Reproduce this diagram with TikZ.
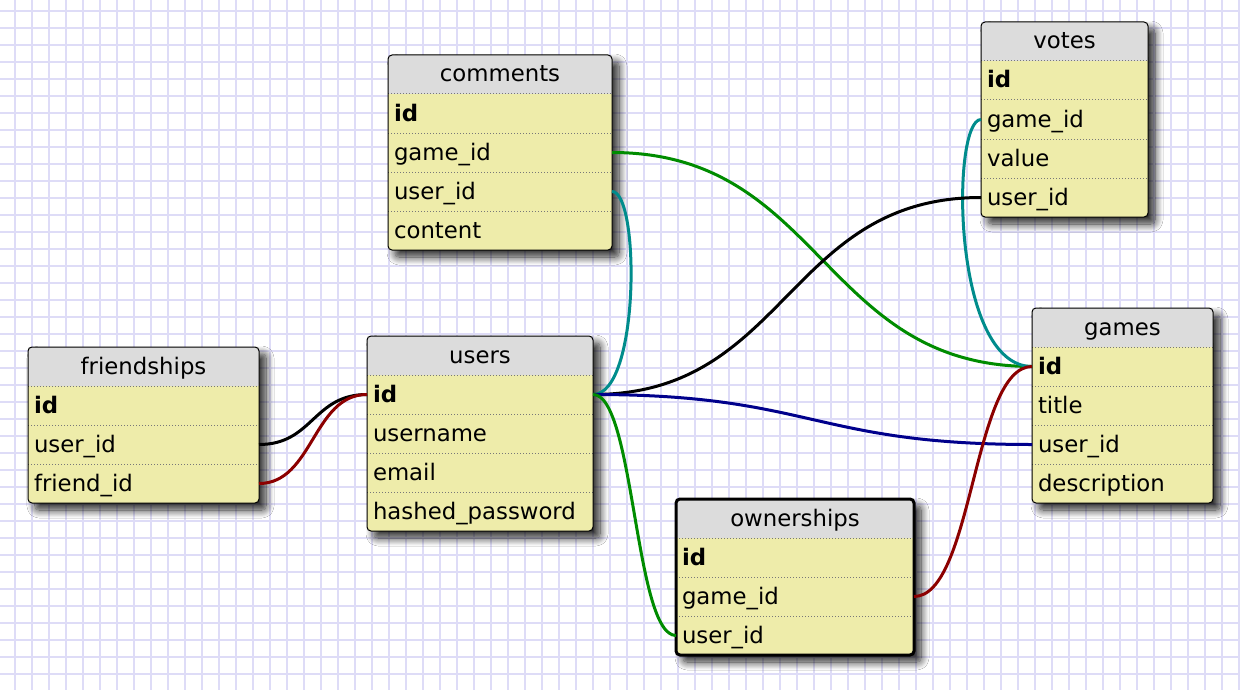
\documentclass[tikz,border=0pt]{standalone}
\usepackage{fontspec}
\setmainfont{DejaVu Sans}
\usetikzlibrary{calc,shadows.blur}
\definecolor{gridc}{RGB}{222,220,247}
\definecolor{rowc}{RGB}{238,236,170}
\definecolor{hdrc}{RGB}{220,220,220}
\definecolor{sepc}{RGB}{120,120,120}
\definecolor{cgreen}{RGB}{0,140,0}
\definecolor{cteal}{RGB}{0,140,140}
\definecolor{cnavy}{RGB}{0,0,140}
\definecolor{cred}{RGB}{140,0,0}
\tikzset{
  gridline/.style={draw=gridc, line width=1pt},
  tblshadow/.style={blur shadow={shadow xshift=3.5pt, shadow yshift=-3.5pt, shadow blur radius=4pt, shadow blur steps=12, shadow opacity=85}},
  tblfill/.style={fill=rowc, rounded corners=2pt, tblshadow},
  hdrfill/.style={fill=hdrc},
  sepline/.style={draw=sepc, line width=0.5pt, dash pattern=on 0.5pt off 1pt},
  border/.style={draw=black, line width=0.5pt, rounded corners=2pt},
  selborder/.style={line width=1.5pt},
  titletext/.style={font=\fontsize{11.4pt}{13pt}\selectfont, inner sep=0pt, text height=10pt, text depth=2.5pt},
  fieldrow/.style={font=\fontsize{11.4pt}{13pt}\selectfont, inner xsep=3pt, inner ysep=0pt, outer sep=0pt, minimum height=19.5pt, text height=10pt, text depth=2.5pt, align=left, anchor=west},
  conn/.style={line width=1.5pt},
}
\newcommand\dbtable[8]{%
  \pgfmathsetmacro\tbH{39*(#6+1)}%
  \pgfmathsetmacro\tbW{(#4-12)*0.5}%
  \fill[tblfill] (#2,#3) rectangle ++(#4,\tbH);
  \fill[hdrfill, rounded corners=2pt] (#2,#3) rectangle ++(#4,39);
  \fill[hdrfill] (#2,#3+30) rectangle ++(#4,9);
  \foreach \sk in {1,...,#6} \draw[sepline] (#2,#3+39*\sk) -- ++(#4,0);
  \draw[border,#8] (#2,#3) rectangle ++(#4,\tbH);
  \node[titletext] (#1) at (#2+#4/2,#3+19.5) {#5};
  \foreach \fk/\ft [count=\fn] in {#7}
    \node[fieldrow, text width=\tbW pt] (#1-\fk) at (#2,#3+39*\fn+19.5) {\ft};
}
\newcommand\sconn[3]{%
  \coordinate (cm) at ($(#2)!0.5!(#3)$);
  \draw[conn,#1] (#2) .. controls (cm |- #2) and (cm |- #3) .. (#3);
}
\begin{document}
\begin{tikzpicture}[x=0.5pt,y=-0.5pt]
\useasboundingbox (0,0) rectangle (1240,690);
\fill[white] (0,0) rectangle (1240,690);
\foreach \gx in {15,32,...,1240} \draw[gridline] (\gx,0) -- (\gx,690);
\foreach \gy in {11,28,...,690} \draw[gridline] (0,\gy) -- (1240,\gy);

\dbtable{comments}{388}{55}{224}{comments}{4}{id/\textbf{id},gid/game\_id,uid/user\_id,content/content}{}
\dbtable{votes}{981}{22}{167}{votes}{4}{id/\textbf{id},gid/game\_id,value/value,uid/user\_id}{}
\dbtable{friend}{28}{347}{231}{friendships}{3}{id/\textbf{id},uid/user\_id,fid/friend\_id}{}
\dbtable{users}{367}{336}{226}{users}{4}{id/\textbf{id},uname/username,email/email,pw/hashed\_password}{}
\dbtable{games}{1032}{308}{181}{games}{4}{id/\textbf{id},title/title,uid/user\_id,desc/description}{}
\dbtable{owner}{676}{499}{238}{ownerships}{3}{id/\textbf{id},gid/game\_id,uid/user\_id}{selborder}

\sconn{cgreen}{comments-gid.east}{games-id.west}
\draw[conn,cteal] (comments-uid.east) .. controls ([xshift=14pt]comments-uid.east) and ([xshift=23.5pt]users-id.east) .. (users-id.east);
\draw[conn,cteal] (votes-gid.west) .. controls ([xshift=-15pt]votes-gid.west) and ([xshift=-40.5pt]games-id.west) .. (games-id.west);
\sconn{black}{votes-uid.west}{users-id.east}
\sconn{cnavy}{users-id.east}{games-uid.west}
\sconn{cgreen}{users-id.east}{owner-uid.west}
\sconn{cred}{owner-gid.east}{games-id.west}
\sconn{black}{friend-uid.east}{users-id.west}
\sconn{cred}{friend-fid.east}{users-id.west}
\end{tikzpicture}
\end{document}
